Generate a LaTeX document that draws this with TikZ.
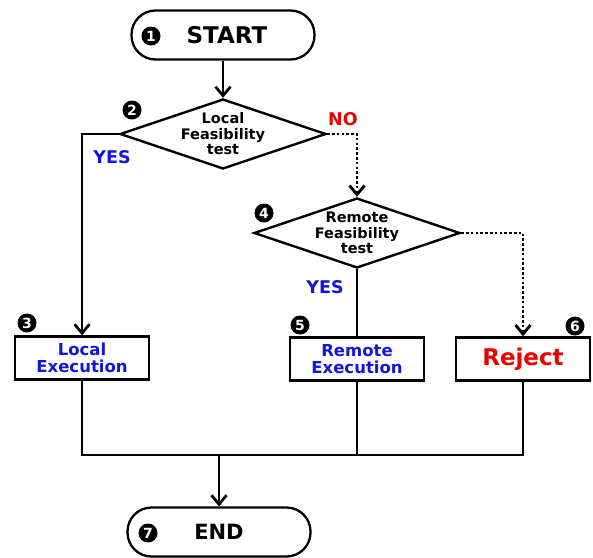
\documentclass[tikz,border=0pt]{standalone}
\usepackage{fontspec}
\setmainfont{DejaVu Sans}
\usetikzlibrary{shapes.geometric,arrows.meta}
\definecolor{yesblue}{RGB}{20,20,225}
\definecolor{nored}{RGB}{235,0,0}

\begin{document}
\begin{tikzpicture}[x=1pt, y=-1pt,
		term/.style={draw, line width=2.3pt, rounded corners=24pt, minimum width=183pt, minimum height=49pt},
		decision/.style={draw, diamond, shape aspect=3, inner xsep=0pt, inner ysep=-6pt, line width=2.4pt,
			minimum width=206pt, minimum height=70pt, align=center,
			font=\fontsize{14.5}{15.5}\selectfont\bfseries},
		procbox/.style={draw, rectangle, line width=2.4pt, minimum width=134pt, minimum height=43pt, align=center,
			font=\fontsize{16.5}{17}\selectfont\bfseries},
		badge/.style={circle, fill=black, text=white, inner sep=0pt, minimum size=19pt,
			font=\fontsize{14}{14}\selectfont\bfseries},
		flow/.style={line width=2.7pt, -{Straight Barb[length=9pt,width=15pt]}},
		plain/.style={line width=2.7pt},
		dotflow/.style={line width=2.9pt, dash pattern=on 2.5pt off 2.3pt, -{Straight Barb[length=9pt,width=15pt]}}]
				\useasboundingbox (0, 0) rectangle (593, 557);
				
				% terminals
				\node[term, font=\fontsize{23}{23}\selectfont\bfseries] (start) at (223, 35) {\hspace{8pt}START};
				\node[term, font=\fontsize{21}{21}\selectfont\bfseries] (end) at (219, 532) {END};
				
				% decisions
				\node[decision] (local) at (223, 134) {Local\\Feasibility\\test};
				\node[decision] (remote) at (357, 233) {Remote\\Feasibility\\test};
				
				% actions
				\node[procbox, text=yesblue] (locexec) at (82, 358) {Local\\Execution};
				\node[procbox, text=yesblue] (remexec) at (357, 359) {Remote\\Execution};
				\node[procbox, text=nored, font=\fontsize{23}{23}\selectfont\bfseries] (reject) at (523, 359) {Reject};
				
				% step numbers
				\node[badge] (n1) at (151, 36) {1};
				\node[badge] (n2) at (132, 110) {2};
				\node[badge] (n3) at (27, 323) {3};
				\node[badge] (n4) at (264, 213) {4};
				\node[badge] (n5) at (300, 325) {5};
				\node[badge] (n6) at (575, 326) {6};
				\node[badge] (n7) at (148, 533) {7};
				
				% answers
				\node[text=yesblue, font=\fontsize{17.5}{17.5}\selectfont\bfseries] (yes1) at (112, 157) {YES};
				\node[text=yesblue, font=\fontsize{17.5}{17.5}\selectfont\bfseries] (yes2) at (325, 287) {YES};
				\node[text=nored, font=\fontsize{17.5}{17.5}\selectfont\bfseries] (no1) at (343, 119) {NO};
				
				% connectors
				\draw[flow] (start) -- (local);
				\draw[flow] (local.west) -| (locexec.north);
				\draw[dotflow] (local.east) -| (remote.north);
				\draw[plain] (remote.south) -- (remexec.north);
				\draw[dotflow] (remote.east) -| (reject.north);
				
				\coordinate (bus) at (219, 455);
				\draw[plain] (locexec.south) |- (bus) -| (reject.south);
				\draw[plain] (remexec.south) -- (remexec.south |- bus);
				\draw[flow] (bus) -- (end.north);
			\end{tikzpicture}
\end{document}
